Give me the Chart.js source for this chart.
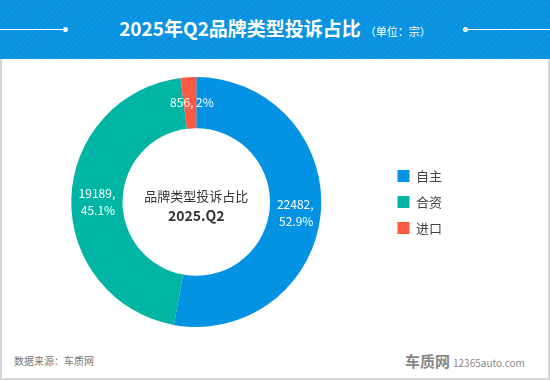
<!DOCTYPE html>
<html><head><meta charset="utf-8">
<script src="https://cdn.jsdelivr.net/npm/chart.js@4"></script>
<style>
html,body{margin:0;padding:0;background:#fff;}
#wrap{position:relative;width:550px;height:380px;overflow:hidden;font-family:"Noto Sans CJK SC","Noto Sans",sans-serif;}
#head{position:absolute;left:0;top:0;width:550px;height:59px;background:#0591e0;
 background-image:repeating-linear-gradient(135deg,rgba(255,255,255,0.04) 0 2px,rgba(0,0,0,0) 2px 4px);}
#title{position:absolute;left:0;top:14px;width:550px;text-align:center;color:#fff;font-size:19px;font-weight:bold;}
#title small{font-size:11px;font-weight:normal;margin-left:4px;}
.ln{position:absolute;top:29px;height:1px;background:#fff;}
.dot{position:absolute;top:27px;width:5px;height:5px;border-radius:50%;background:#fff;}
#frame{position:absolute;left:0;top:59px;width:546px;height:319px;border:2px solid #d6d6d6;border-top:none;}
#src{position:absolute;left:14px;top:353px;font-size:10px;color:#777;}
#logo{position:absolute;left:405px;top:350px;color:#888;font-size:15px;font-weight:bold;}
#logo span{font-size:10px;font-weight:normal;margin-left:3px;}
#cv{position:absolute;left:0;top:59px;}
</style></head>
<body>
<div id="wrap">
 <div id="head">
  <div class="ln" style="left:0;width:65px"></div><div class="dot" style="left:63px"></div>
  <div class="ln" style="left:467px;width:83px"></div><div class="dot" style="left:463px"></div>
  <div id="title">2025年Q2品牌类型投诉占比<small>（单位：宗）</small></div>
 </div>
 <div id="frame"></div>
 <canvas id="cv" width="452" height="290"></canvas>
 <div id="src">数据来源：车质网</div>
 <div id="logo">车质网<span>12365auto.com</span></div>
</div>
<script>
const categories = ["自主", "合资", "进口"];
const values = [22482, 19189, 856];
const colors = ["#0493e3", "#00b5a3", "#fd5a45"];
const centerLines = ["品牌类型投诉占比", "2025.Q2"];

const total = values.reduce((a,b)=>a+b,0);
function pct(v){ return parseFloat((v/total*100).toFixed(1)) + "%"; }

const labelPlugin = {
  id: "sliceLabels",
  afterDatasetsDraw(chart){
    const ctx = chart.ctx;
    const meta = chart.getDatasetMeta(0);
    ctx.save();
    ctx.fillStyle = "#fff";
    ctx.font = "12px 'Noto Sans CJK SC', sans-serif";
    ctx.textAlign = "center";
    ctx.textBaseline = "middle";
    meta.data.forEach((arc, i) => {
      const p = arc.getProps(["x","y","startAngle","endAngle","innerRadius","outerRadius"], true);
      const a = (p.startAngle + p.endAngle)/2;
      const r = (p.innerRadius + p.outerRadius)/2;
      const x = p.x + Math.cos(a)*r;
      const y = p.y + Math.sin(a)*r;
      const v = values[i];
      const share = v/total;
      if (share < 0.05) {
        ctx.fillText(v + ", " + pct(v), x + 2, y);
      } else {
        ctx.fillText(v + ",", x, y - 6);
        ctx.fillText(pct(v), x + 1, y + 11);
      }
    });
    const c = meta.data[0];
    ctx.fillStyle = "#333";
    ctx.font = "13px 'Noto Sans CJK SC', sans-serif";
    ctx.fillText(centerLines[0], c.x, c.y - 6);
    ctx.font = "bold 14px 'Noto Sans CJK SC', sans-serif";
    ctx.fillText(centerLines[1], c.x, c.y + 14);
    ctx.restore();
  }
};

new Chart(document.getElementById("cv"), {
  type: "doughnut",
  data: {
    labels: categories,
    datasets: [{ data: values, backgroundColor: colors, borderWidth: 0 }]
  },
  options: {
    responsive: false,
    animation: false,
    cutout: "59%",
    layout: { padding: { top: 18, bottom: 22, left: 8, right: 0 } },
    plugins: {
      tooltip: { enabled: false },
      legend: {
        position: "right",
        align: "center",
        labels: {
          boxWidth: 12, boxHeight: 12, padding: 13,
          color: "#444",
          font: { size: 13, family: "'Noto Sans CJK SC', sans-serif" }
        }
      }
    }
  },
  plugins: [labelPlugin]
});
</script>
</body></html>
